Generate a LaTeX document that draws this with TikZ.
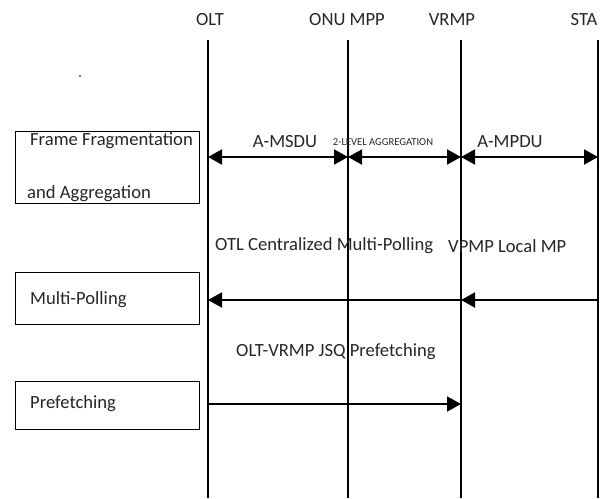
\documentclass[tikz,border=0pt]{standalone}
\usepackage{fontspec}
\setmainfont{Carlito}
\usetikzlibrary{arrows.meta}
\begin{document}
\begin{tikzpicture}[x=1pt,y=-1pt,
  life/.style={line width=1.9pt},
  tipstyle/.style={line width=1.9pt},
  bidir/.style={tipstyle,{Triangle[length=14pt,width=15pt]}-{Triangle[length=14pt,width=15pt]}},
  msg/.style={tipstyle,-{Triangle[length=14pt,width=15pt]}},
  box/.style={draw,line width=1.4pt,inner sep=0pt,minimum width=184pt,anchor=north west},
  lbl/.style={font=\fontsize{18.6}{20}\selectfont,inner sep=0pt,text=black!85},
  small/.style={font=\fontsize{10.6}{12}\selectfont,inner sep=0pt,text=black!85},
]
\useasboundingbox (0,0) rectangle (605,498);
% lifelines
\foreach \n/\x in {olt/208,onu/348,vrmp/461,sta/598}{
  \coordinate (\n top) at (\x,40);
  \coordinate (\n bot) at (\x,498);
  \draw[life] (\n top) -- (\n bot);
}
\node[lbl] (lolt) at (210,20) {OLT};
\node[lbl] (lonu) at (347,20) {ONU MPP};
\node[lbl] (lvrmp) at (452,20) {VRMP};
\node[lbl] (lsta) at (584,20) {STA};
% dot
\fill (80,76) circle (0.9pt);
% boxes
\node[box,minimum height=72pt] (b1) at (15,131) {};
\node[box,minimum height=52pt] (b2) at (15,272) {};
\node[box,minimum height=48pt] (b3) at (15,381) {};
\node[lbl,anchor=west] (t1a) at (30,141) {Frame Fragmentation};
\node[lbl,anchor=west] (t1b) at (27,194) {and Aggregation};
\node[lbl,anchor=west] (t2) at (30,300) {Multi-Polling};
\node[lbl,anchor=west] (t3) at (30,404) {Prefetching};
% row 1
\coordinate (r1olt) at (208,157);
\coordinate (r1onu) at (348,157);
\coordinate (r1vrmp) at (461,157);
\coordinate (r1sta) at (598,157);
\draw[bidir] (r1olt) -- (r1onu);
\draw[bidir] (r1onu) -- (r1vrmp);
\draw[bidir] (r1vrmp) -- (r1sta);
\node[lbl] (amsdu) at (285,142) {A-MSDU};
\node[small] (lvl) at (383,142) {2-LEVEL AGGREGATION};
\node[lbl] (ampdu) at (510,142) {A-MPDU};
% row 2
\coordinate (r2olt) at (208,300);
\coordinate (r2vrmp) at (461,300);
\coordinate (r2sta) at (598,300);
\draw[msg] (r2sta) -- (r2vrmp);
\draw[msg] (r2vrmp) -- (r2olt);
\node[lbl,anchor=west] (ocm) at (215,246) {OTL Centralized Multi-Polling};
\node[lbl,anchor=west] (vlm) at (448,246) {VPMP Local MP};
% row 3
\coordinate (r3olt) at (208,404);
\coordinate (r3vrmp) at (461,404);
\draw[msg] (r3olt) -- (r3vrmp);
\node[lbl,anchor=west] (ojp) at (236,352) {OLT-VRMP JSQ Prefetching};
\end{tikzpicture}
\end{document}
